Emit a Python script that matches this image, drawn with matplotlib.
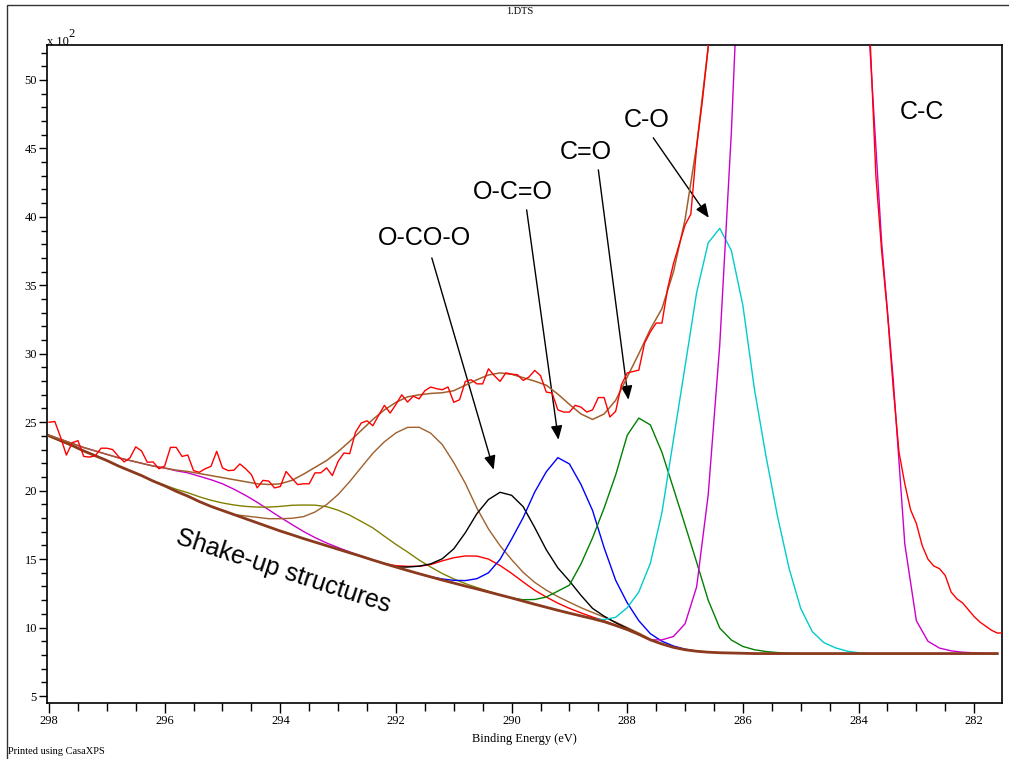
import numpy as np
import matplotlib
matplotlib.use("Agg")
import matplotlib.pyplot as plt
from matplotlib.ticker import MultipleLocator, FormatStrFormatter
from matplotlib.patches import Rectangle

# --- data (x 10^2 counts) ---
# raw spectrum, 0.1 eV steps starting at 298.0 eV
raw_start, raw_step = 298.0, 0.1
raw_counts = [
    25.0, 25.05, 23.9, 22.6, 23.5, 23.65, 22.5, 22.45, 22.55, 23.1,
    23.1, 23.0, 22.5, 22.1, 22.4, 23.2, 22.9, 22.07, 22.1, 21.6,
    21.8, 23.16, 23.16, 22.5, 22.6, 21.46, 21.34, 21.6, 21.77, 22.87,
    21.66, 21.46, 21.5, 21.95, 21.6, 21.17, 20.2, 20.75, 20.7, 20.2,
    20.3, 21.4, 20.9, 20.44, 20.5, 20.5, 21.3, 21.3, 21.66, 21.1,
    22.14, 22.75, 22.7, 24.26, 24.94, 25.1, 24.74, 25.5, 26.23, 25.67,
    26.3, 27.0, 26.47, 26.9, 26.7, 27.3, 27.57, 27.45, 27.37, 27.57,
    26.45, 26.64, 27.98, 28.1, 27.8, 27.8, 28.9, 28.4, 27.98, 28.6,
    28.5, 28.47, 28.05, 28.3, 28.78, 28.4, 27.2, 27.13, 25.9, 25.74,
    25.74, 26.23, 26.1, 25.74, 25.9, 26.8, 26.8, 25.38, 25.8, 27.74,
    28.6, 28.7, 28.8, 30.78, 31.6, 32.24, 32.24, 34.8, 36.6, 38.0,
    39.4, 40.2, 45.1, 48.5, 52.4, 60, 70, 82, 95, 108,
    118, 127, 134, 140, 144, 147, 149, 150, 150, 149,
    147, 144, 140, 135, 129, 122, 114, 105, 95, 85,
    74, 63, 53, 43, 37.5, 33, 27.5, 22.8, 20.5, 18.6,
    17.6, 16.0, 15.0, 14.5, 14.3, 13.8, 12.6, 12.1, 11.8, 11.3,
    10.8, 10.4, 10.1, 9.8, 9.6, 9.6,
]

# background and fit, 0.2 eV steps starting at 298.0 eV
fit_start, fit_step = 298.0, 0.2
background = [
    24.0, 23.65, 23.3, 22.9, 22.55, 22.2, 21.8, 21.45, 21.1, 20.7,
    20.35, 19.95, 19.6, 19.2, 18.85, 18.55, 18.25, 17.95, 17.65, 17.35,
    17.05, 16.78, 16.5, 16.24, 15.98, 15.72, 15.46, 15.2, 14.93, 14.67,
    14.42, 14.17, 13.93, 13.7, 13.47, 13.25, 13.03, 12.82, 12.6, 12.38,
    12.16, 11.93, 11.7, 11.48, 11.26, 11.05, 10.85, 10.65, 10.43, 10.15,
    9.85, 9.5, 9.1, 8.8, 8.55, 8.38, 8.27, 8.2, 8.16, 8.14,
    8.12, 8.1, 8.1, 8.1, 8.1, 8.1, 8.1, 8.1, 8.1, 8.1,
    8.1, 8.1, 8.1, 8.1, 8.1, 8.1, 8.1, 8.1, 8.1, 8.1,
    8.1, 8.1, 8.1,
]
envelope = [
    24.05, 23.75, 23.45, 23.15, 22.9, 22.65, 22.4, 22.2, 22.0, 21.8,
    21.65, 21.5, 21.4, 21.25, 21.1, 20.95, 20.8, 20.65, 20.5, 20.45,
    20.5, 20.75, 21.2, 21.7, 22.2, 22.85, 23.6, 24.4, 25.2, 25.9,
    26.45, 26.85, 27.0, 27.1, 27.15, 27.3, 27.7, 28.1, 28.45, 28.6,
    28.5, 28.25, 28.0, 27.7, 27.05, 26.3, 25.6, 25.2, 25.6, 26.6,
    28.3, 30.0, 31.8, 33.3, 36.0, 39.8, 45.2, 52.4, 64, 80,
]

# components: start energy and height above background on the 0.2 eV grid
shake_start = 298.0
shake_vals = [0.05, 0.1, 0.15, 0.25, 0.35, 0.45, 0.6, 0.75, 0.9, 1.1,
              1.3, 1.5, 1.7, 1.85, 1.95, 1.95, 1.85, 1.7, 1.5, 1.25,
              1.0, 0.75, 0.52, 0.33, 0.2, 0.12, 0.06, 0.02, 0.0]
olive_start = 296.2
olive_vals = [0.0, 0.05, 0.15, 0.25, 0.35, 0.45, 0.55, 0.7, 0.9, 1.15,
              1.45, 1.8, 2.15, 2.45, 2.7, 2.85, 2.85, 2.75, 2.55, 2.35,
              2.0, 1.65, 1.35, 1.0, 0.72, 0.48, 0.3, 0.18, 0.1, 0.05, 0.0]
brown_start = 294.8
brown_vals = [0.0, 0.2, 0.4, 0.6, 0.9, 1.2, 1.6, 2.2, 3.0, 4.0,
              5.2, 6.5, 7.8, 8.9, 9.8, 10.45, 10.7, 10.5, 9.9, 8.8,
              7.5, 5.9, 4.6, 3.6, 2.8, 2.1, 1.6, 1.25, 1.0, 0.8,
              0.6, 0.45, 0.33, 0.25, 0.15, 0.1, 0.05, 0.0]
red_start = 292.2
red_vals = [0.0, 0.1, 0.3, 0.55, 0.9, 1.4, 1.85, 2.2, 2.4, 2.4,
            2.15, 1.8, 1.4, 1.02, 0.75, 0.52, 0.35, 0.22, 0.12, 0.06, 0.02, 0.0]
black_start = 292.0
black_vals = [0.0, 0.25, 0.55, 0.95, 1.55, 2.5, 3.9, 5.5, 6.75, 7.5,
              7.5, 6.9, 5.6, 4.2, 3.1, 2.35, 1.5, 0.75, 0.4, 0.2, 0.08, 0.0]
blue_start = 291.4
blue_vals = [0.0, 0.08, 0.2, 0.4, 0.75, 1.4, 2.6, 4.3, 6.1, 8.2,
             9.9, 11.15, 10.9, 9.6, 7.9, 5.4, 3.3, 1.95, 1.0, 0.45,
             0.2, 0.1, 0.04, 0.0]
green_start = 290.0
green_vals = [0.0, 0.1, 0.35, 0.75, 1.4, 2.05, 3.8, 5.9, 8.3, 11.0,
              14.2, 15.8, 15.7, 14.0, 11.6, 9.1, 6.5, 3.8, 1.8, 0.95,
              0.5, 0.28, 0.15, 0.07, 0.02, 0.0]
cyan_start = 288.6
cyan_vals = [0.0, 0.15, 0.6, 1.6, 3.1, 5.6, 9.6, 15.2, 20.7, 26.2,
             29.9, 31.0, 29.4, 25.4, 19.3, 14.4, 10.0, 6.2, 3.3, 1.6,
             0.8, 0.42, 0.18, 0.06, 0.0]
cc_start = 287.6
cc_vals = [0.0, 0.3, 0.8, 1.9, 4.7, 11.5, 22.5, 38.0, 58, 80,
           100, 115, 124, 127, 125, 117, 103, 83, 62, 44,
           30, 20, 8, 2.4, 0.9, 0.4, 0.2, 0.1, 0.05, 0.02, 0.0]

components = [
    (shake_start, shake_vals, "#cc00cc"),
    (olive_start, olive_vals, "#808000"),
    (brown_start, brown_vals, "#a0602d"),
    (red_start, red_vals, "#ff0000"),
    (black_start, black_vals, "#000000"),
    (blue_start, blue_vals, "#0000ff"),
    (green_start, green_vals, "#008000"),
    (cyan_start, cyan_vals, "#00cccc"),
    (cc_start, cc_vals, "#cc00cc"),
]

raw_x = raw_start - raw_step * np.arange(len(raw_counts))
fit_x = fit_start - fit_step * np.arange(len(background))
bg = np.array(background)

fig = plt.figure(figsize=(10.09, 7.59), dpi=100)
ax = fig.add_axes([0.0463, 0.0738, 0.9467, 0.8669])

for start, vals, col in components:
    i0 = int(round((fit_start - start) / fit_step))
    seg = slice(i0, i0 + len(vals))
    ax.plot(fit_x[seg], bg[seg] + np.array(vals), color=col, lw=1.0, zorder=2)

ax.plot(fit_x, bg, color="#8b3a1e", lw=2.0, zorder=3)
ax.plot(fit_x[:len(envelope)], envelope, color="#a0602d", lw=1.1, zorder=4)
ax.plot(raw_x, raw_counts, color="#ff0000", lw=1.0, zorder=5)

ax.set_xlim(298.04, 281.52)
ax.set_ylim(4.49, 52.55)

ax.xaxis.set_major_locator(MultipleLocator(2))
ax.xaxis.set_minor_locator(MultipleLocator(0.5))
ax.yaxis.set_major_locator(MultipleLocator(5))
ax.yaxis.set_minor_locator(MultipleLocator(1))
ax.xaxis.set_major_formatter(FormatStrFormatter("%d"))
ax.yaxis.set_major_formatter(FormatStrFormatter("%d"))
ax.tick_params(axis="x", which="major", direction="out", length=7, width=1, pad=2)
ax.tick_params(axis="x", which="minor", direction="out", length=6, width=1)
ax.tick_params(axis="y", which="major", direction="out", length=6, width=1, pad=1)
ax.tick_params(axis="y", which="minor", direction="out", length=4, width=1)
for lab in ax.get_xticklabels() + ax.get_yticklabels():
    lab.set_fontfamily("Liberation Serif")
    lab.set_fontsize(9)
for sp in ax.spines.values():
    sp.set_linewidth(1.2)

ax.set_xlabel("Binding Energy (eV)", family="Liberation Serif", fontsize=9, labelpad=4)

# peak labels
lab_font = dict(family="Liberation Sans", fontsize=18, ha="center", va="center")
ax.text(282.9, 47.66, "C-C", **lab_font)
arrow = dict(arrowstyle="-|>,head_length=0.6,head_width=0.25", color="black",
             lw=1.0, mutation_scale=14, shrinkA=0, shrinkB=0)
labels = [
    ("C-O", (287.67, 47.1), (287.55, 45.77), (286.59, 39.93)),
    ("C=O", (288.71, 44.74), (288.50, 43.43), (287.98, 26.64)),
    ("O-C=O", (289.98, 41.82), (289.74, 40.51), (289.19, 23.72)),
    ("O-CO-O", (291.50, 38.47), (291.38, 37.00), (290.31, 21.53)),
]
for txt, tpos, a0, a1 in labels:
    ax.text(tpos[0], tpos[1], txt, **lab_font)
    ax.annotate("", xy=a1, xytext=a0, arrowprops=arrow)
ax.text(293.95, 14.1, "Shake-up structures", family="Liberation Sans", fontsize=18,
        rotation=-18, ha="center", va="center", rotation_mode="anchor")

# page decorations
W, H = 1009, 759
fig.text(520 / W, 1 - 12 / H, "1.DTS", family="Liberation Serif", fontsize=7.5,
         ha="center", va="center")
fig.text(47 / W, 1 - 45 / H, "x 10", family="Liberation Serif", fontsize=9,
         ha="left", va="baseline")
fig.text(68 / W, 1 - 37 / H, "2", family="Liberation Serif", fontsize=9,
         ha="left", va="baseline")
fig.text(8 / W, 1 - 751 / H, "Printed using CasaXPS", family="Liberation Serif",
         fontsize=7.5, ha="left", va="center")
fig.patches.append(Rectangle((7 / W, -0.1), 1.2, 1.1 - 5 / H, transform=fig.transFigure,
                             fill=False, edgecolor="#333333", lw=1.0))

fig.savefig("out.png", dpi=100)
